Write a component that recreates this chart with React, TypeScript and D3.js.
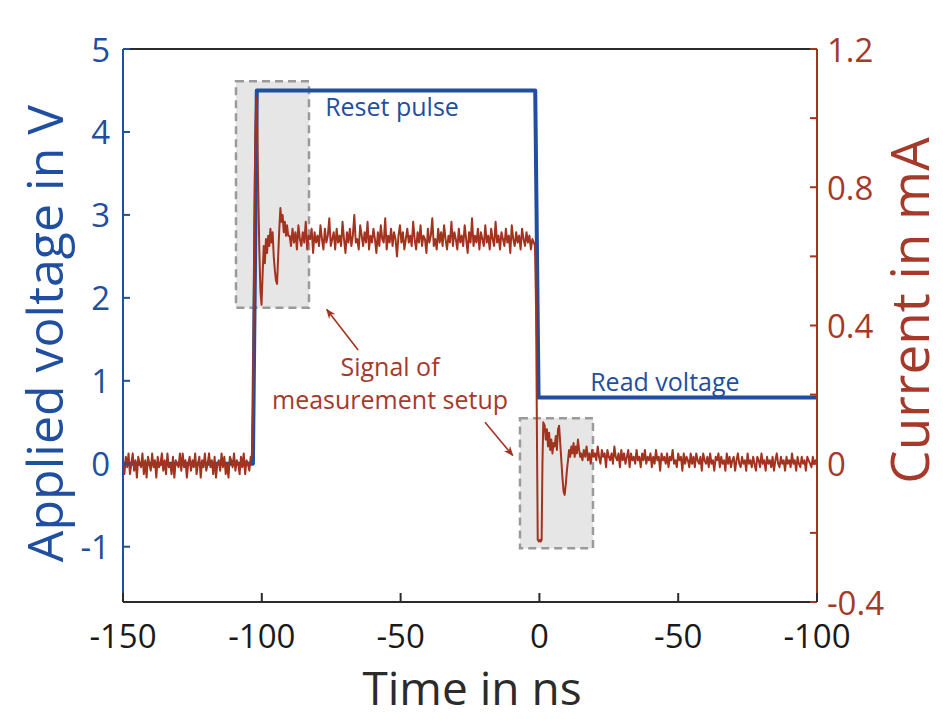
import React from 'react';
import * as d3 from 'd3';

// ---------- DATA ----------
const voltTimes = [-150, -103.2, -101.8, -1.5, -0.3, 100];
const voltValues = [0, 0, 4.5, 4.5, 0.8, 0.8];

const baselineStart = -150;
const baselineEnd = -104;
const baselineCurrent = [
  0.01, -0.03, 0.02, -0.01, 0.03, -0.03, 0.0, 0.03, -0.02, 0.01, -0.04, 0.02, 0.0, -0.01, 0.03, -0.03, 0.01, -0.04, 0.02, 0.0,
  -0.02, 0.03, -0.01, 0.01, -0.04, 0.02, -0.01, 0.0, 0.03, -0.02, 0.01, -0.03, 0.03, -0.01, 0.0, -0.03, 0.02, -0.04, 0.01, 0.0,
  -0.01, 0.03, -0.02, 0.03, -0.01, 0.01, -0.04, 0.0, 0.02, -0.02, 0.01, -0.01, 0.03, -0.03, 0.0, 0.02, -0.04, 0.01, -0.01, 0.03,
  -0.02, 0.0, 0.03, -0.01, 0.01, -0.03, 0.02, -0.04, 0.0, 0.01, -0.02, 0.03, -0.01, 0.02, -0.03, 0.0, -0.04, 0.02, 0.01, -0.01,
  0.03, -0.02, 0.01, 0.0, -0.03, 0.02, -0.01, 0.03, -0.03, 0.01, 0.0, -0.02, 0.02,
];

const onsetTimes = [
  -103.6, -103.2, -102.8, -102.4, -102.0, -101.7, -101.3, -100.9, -100.5, -100.1, -99.7, -99.3, -98.9, -98.5, -98.1, -97.7,
  -97.3, -96.9, -96.5, -96.1, -95.7, -95.3, -94.9, -94.5, -94.1, -93.7, -93.3, -92.9, -92.5, -92.1, -91.7, -91.3, -90.9, -90.5,
];
const onsetCurrent = [
  0.02, 0.15, 0.55, 0.92, 1.06, 1.02, 0.8, 0.62, 0.5, 0.46, 0.55, 0.63, 0.58, 0.65, 0.61, 0.66, 0.63, 0.68, 0.64, 0.67, 0.6,
  0.56, 0.53, 0.52, 0.6, 0.68, 0.74, 0.7, 0.72, 0.67, 0.7, 0.66, 0.69, 0.66,
];

const plateauStart = -90;
const plateauEnd = -2;
const plateauCurrent = [
  0.66, 0.63, 0.68, 0.64, 0.67, 0.62, 0.69, 0.65, 0.63, 0.67, 0.64, 0.7, 0.62, 0.66, 0.65, 0.68, 0.61, 0.67, 0.64, 0.66,
  0.63, 0.69, 0.65, 0.62, 0.68, 0.64, 0.66, 0.71, 0.63, 0.65, 0.67, 0.62, 0.68, 0.64, 0.66, 0.63, 0.7, 0.65, 0.61, 0.67,
  0.64, 0.68, 0.63, 0.66, 0.72, 0.64, 0.65, 0.62, 0.69, 0.66, 0.63, 0.67, 0.64, 0.7, 0.62, 0.66, 0.64, 0.68, 0.65, 0.61,
  0.67, 0.63, 0.69, 0.65, 0.64, 0.71, 0.62, 0.66, 0.64, 0.68, 0.63, 0.67, 0.65, 0.6, 0.66, 0.69, 0.64, 0.67, 0.62, 0.65,
  0.68, 0.64, 0.66, 0.63, 0.7, 0.65, 0.62, 0.67, 0.64, 0.69, 0.63, 0.66, 0.65, 0.61, 0.68, 0.64, 0.66, 0.71, 0.63, 0.65,
  0.62, 0.68, 0.64, 0.67, 0.63, 0.69, 0.65, 0.62, 0.66, 0.64, 0.7, 0.63, 0.67, 0.65, 0.62, 0.68, 0.64, 0.66, 0.63, 0.69,
  0.65, 0.61, 0.67, 0.64, 0.71, 0.63, 0.66, 0.64, 0.68, 0.62, 0.67, 0.65, 0.63, 0.69, 0.64, 0.66, 0.62, 0.68, 0.65, 0.63,
  0.7, 0.64, 0.66, 0.62, 0.67, 0.65, 0.63, 0.68, 0.64, 0.66, 0.61, 0.69, 0.65, 0.63, 0.67, 0.64, 0.66, 0.62, 0.68, 0.65,
  0.63, 0.67, 0.64, 0.66, 0.62, 0.65, 0.64,
];

const ringTimes = [
  -1.6, -1.2, -0.9, -0.6, -0.2, 0.2, 0.5, 0.8, 1.1, 1.4, 1.9, 2.3, 2.7, 3.1, 3.5, 3.9, 4.3, 4.7, 5.1, 5.5, 5.9, 6.3, 6.7,
  7.1, 7.5, 7.9, 8.3, 8.7, 9.1, 9.5, 9.9, 10.3, 10.7, 11.1, 11.5, 11.9, 12.3, 12.7, 13.1, 13.5, 13.9, 14.3, 14.7,
];
const ringCurrent = [
  0.63, 0.45, 0.1, -0.22, -0.225, -0.22, -0.225, -0.22, 0.0, 0.12, 0.11, 0.07, 0.1, 0.05, 0.09, 0.04, 0.07, 0.03, 0.06, 0.05,
  0.08, 0.04, 0.1, 0.11, 0.06, 0.01, -0.04, -0.08, -0.09, -0.06, -0.02, 0.01, 0.04, 0.02, 0.05, 0.03, 0.06, 0.02, 0.05, 0.03,
  0.07, 0.04, 0.02,
];

const tailStart = 15;
const tailEnd = 100;
const tailCurrent = [
  0.03, 0.01, 0.04, 0.02, 0.05, 0.01, 0.03, 0.0, 0.04, 0.02, 0.03, 0.01, 0.05, 0.02, 0.0, 0.04, 0.02, 0.03, -0.01, 0.04,
  0.02, 0.01, 0.03, 0.0, 0.05, 0.02, 0.01, 0.03, -0.01, 0.04, 0.01, 0.03, 0.0, 0.02, 0.04, -0.01, 0.03, 0.01, 0.02, 0.0,
  0.04, 0.01, 0.02, -0.01, 0.03, 0.01, 0.04, 0.0, 0.02, 0.01, 0.03, -0.01, 0.02, 0.0, 0.04, 0.01, 0.02, -0.02, 0.03, 0.01,
  0.02, 0.0, 0.03, -0.01, 0.02, 0.01, 0.04, 0.0, 0.01, -0.01, 0.03, 0.01, 0.02, -0.02, 0.03, 0.0, 0.02, 0.01, -0.01, 0.03,
  0.0, 0.02, -0.01, 0.03, 0.01, 0.0, 0.02, -0.02, 0.03, 0.01, 0.0, 0.02, -0.01, 0.03, 0.0, 0.01, -0.02, 0.02, 0.01, 0.03,
  -0.01, 0.02, 0.0, 0.01, -0.02, 0.03, 0.0, 0.02, -0.01, 0.01, 0.02, -0.02, 0.01, 0.03, 0.0, -0.01, 0.02, 0.0, 0.01, -0.02,
  0.03, 0.0, 0.01, -0.01, 0.02, 0.0, -0.02, 0.02, 0.01, -0.01, 0.03, 0.0, 0.01, -0.02, 0.02, 0.0, 0.01, -0.01, 0.02, -0.02,
  0.01, 0.03, 0.0, -0.01, 0.02, 0.0, 0.01, -0.02, 0.02, 0.0, 0.01, -0.01, 0.03, 0.0, 0.01, -0.02, 0.02, 0.0, -0.01, 0.02,
  0.0, 0.01, -0.02, 0.02, 0.01, 0.0, -0.01, 0.02, 0.0, 0.01, 0.01,
];

const xTickValues = [-150, -100, -50, 0, 50, 100];
const xTickLabels = ['-150', '-100', '-50', '0', '-50', '-100'];
const voltTicks = [-1, 0, 1, 2, 3, 4, 5];
const currentTicks = [-0.4, -0.2, 0, 0.2, 0.4, 0.6, 0.8, 1.0, 1.2];
const currentLabelTicks = [-0.4, 0, 0.4, 0.8, 1.2];
const currentLabels = ['-0.4', '0', '0.4', '0.8', '1.2'];

// annotation anchors in data coordinates (time in ns, voltage in V)
const boxes = [
  { t0: -109.3, t1: -83.0, v0: 1.88, v1: 4.61 },
  { t0: -7.0, t1: 19.3, v0: -1.02, v1: 0.55 },
];
const arrows = [
  { t0: -65.3, v0: 1.37, t1: -76.6, v1: 1.86 },
  { t0: -19.6, v0: 0.5, t1: -9.6, v1: 0.1 },
];

// ---------- LAYOUT ----------
const W = 943;
const H = 719;
const L = 123;
const R = 817;
const T = 49;
const B = 602;

const BLUE = '#1f4f9e';
const RED = '#a3321f';
const RED_TXT = '#a53a2b';
const FONT = '"Open Sans", "Noto Sans", sans-serif';

function spread(start: number, end: number, vals: number[]) {
  const n = vals.length;
  return vals.map((v, i) => ({ t: start + ((end - start) * i) / (n - 1), v }));
}

export default function App() {
  const x = d3.scaleLinear().domain([-150, 100]).range([L, R]);
  const yV = d3.scaleLinear().domain([-5 / 3, 5]).range([B, T]);
  const yI = d3.scaleLinear().domain([-0.4, 1.2]).range([B, T]);

  const voltData = voltTimes.map((t, i) => ({ t, v: voltValues[i] }));
  const currentData = [
    ...spread(baselineStart, baselineEnd, baselineCurrent),
    ...onsetTimes.map((t, i) => ({ t, v: onsetCurrent[i] })),
    ...spread(plateauStart, plateauEnd, plateauCurrent),
    ...ringTimes.map((t, i) => ({ t, v: ringCurrent[i] })),
    ...spread(tailStart, tailEnd, tailCurrent),
  ];

  const voltLine = d3
    .line<{ t: number; v: number }>()
    .x((d) => x(d.t))
    .y((d) => yV(d.v));
  const curLine = d3
    .line<{ t: number; v: number }>()
    .x((d) => x(d.t))
    .y((d) => yI(d.v));

  const tickFs = 33;
  const titleFs = 50;
  const annFs = 25;

  return (
    <svg width={W} height={H} style={{ position: 'absolute', left: 0, top: 0 }} fontFamily={FONT}>
      <defs>
        <marker id="arr" viewBox="0 0 10 10" refX="9" refY="5" markerWidth="10" markerHeight="10" orient="auto" markerUnits="userSpaceOnUse">
          <path d="M0,1 L10,5 L0,9 L3,5 Z" fill={RED} />
        </marker>
        <clipPath id="plot">
          <rect x={L} y={T} width={R - L} height={B - T} />
        </clipPath>
      </defs>

      {/* annotation boxes */}
      {boxes.map((b, i) => (
        <rect
          key={i}
          x={x(b.t0)}
          y={yV(b.v1)}
          width={x(b.t1) - x(b.t0)}
          height={yV(b.v0) - yV(b.v1)}
          fill="#e6e6e6"
          stroke="#9a9a9a"
          strokeWidth={2.5}
          strokeDasharray="8 5"
        />
      ))}

      <g clipPath="url(#plot)">
        <path d={voltLine(voltData) || ''} fill="none" stroke={BLUE} strokeWidth={4} strokeLinejoin="round" />
        <path d={curLine(currentData) || ''} fill="none" stroke={RED} strokeWidth={2} strokeLinejoin="round" />
      </g>

      {/* arrows */}
      {arrows.map((a, i) => (
        <line
          key={i}
          x1={x(a.t0)}
          y1={yV(a.v0)}
          x2={x(a.t1)}
          y2={yV(a.v1)}
          stroke={RED}
          strokeWidth={1.6}
          markerEnd="url(#arr)"
        />
      ))}

      {/* annotation texts */}
      <text x={x(-53.1)} y={yV(4.31)} fill={BLUE} fontSize={annFs} textAnchor="middle" dominantBaseline="central">
        Reset pulse
      </text>
      <text x={x(45.2)} y={yV(1.0)} fill={BLUE} fontSize={annFs} textAnchor="middle" dominantBaseline="central">
        Read voltage
      </text>
      <text x={x(-53.8)} y={yV(1.18)} fill={RED_TXT} fontSize={annFs} textAnchor="middle" dominantBaseline="central">
        Signal of
      </text>
      <text x={x(-53.8)} y={yV(0.78)} fill={RED_TXT} fontSize={annFs} textAnchor="middle" dominantBaseline="central">
        measurement setup
      </text>

      {/* frame */}
      <line x1={L} y1={T} x2={R} y2={T} stroke="#2b2b2b" strokeWidth={2} />
      <line x1={L} y1={B} x2={R} y2={B} stroke="#2b2b2b" strokeWidth={2} />
      <line x1={L} y1={T} x2={L} y2={B} stroke={BLUE} strokeWidth={2} />
      <line x1={R} y1={T} x2={R} y2={B} stroke={RED} strokeWidth={2} />

      {/* left axis */}
      {voltTicks.map((v) => (
        <g key={v}>
          <line x1={L} x2={L + 7} y1={yV(v)} y2={yV(v)} stroke={BLUE} strokeWidth={2} />
          <text x={L - 13} y={yV(v)} fill={BLUE} fontSize={tickFs} textAnchor="end" dominantBaseline="central">
            {String(v)}
          </text>
        </g>
      ))}
      <text
        transform={`translate(44,${(T + B) / 2 + 8}) rotate(-90)`}
        fill={BLUE}
        fontSize={titleFs}
        textAnchor="middle"
        dominantBaseline="central"
      >
        Applied voltage in V
      </text>

      {/* right axis */}
      {currentTicks.map((c) => (
        <line key={c} x1={R - 7} x2={R} y1={yI(c)} y2={yI(c)} stroke={RED} strokeWidth={2} />
      ))}
      {currentLabelTicks.map((c, i) => (
        <text key={c} x={R + 10} y={yI(c)} fill={RED_TXT} fontSize={tickFs} textAnchor="start" dominantBaseline="central">
          {currentLabels[i]}
        </text>
      ))}
      <text
        transform={`translate(908,${(T + B) / 2 - 15}) rotate(-90)`}
        fill={RED_TXT}
        fontSize={53}
        textAnchor="middle"
        dominantBaseline="central"
      >
        Current in mA
      </text>

      {/* bottom axis */}
      {xTickValues.map((t, i) => (
        <g key={t}>
          <line x1={x(t)} x2={x(t)} y1={B} y2={B - 9} stroke="#2b2b2b" strokeWidth={2} />
          <text x={x(t)} y={648} fill="#1a1a1a" fontSize={tickFs} textAnchor="middle">
            {xTickLabels[i]}
          </text>
        </g>
      ))}
      <text x={(L + R) / 2 + 2} y={705} fill="#2b2b2b" fontSize={46} textAnchor="middle">
        Time in ns
      </text>
    </svg>
  );
}
